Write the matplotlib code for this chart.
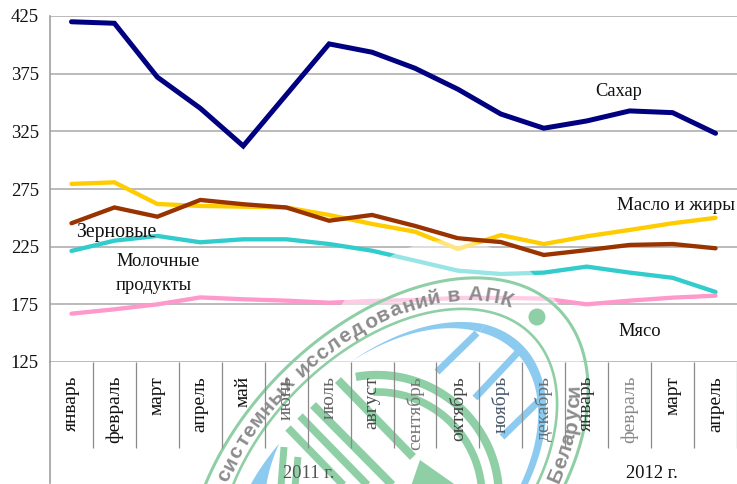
#!/usr/bin/env python3
import numpy as np
import matplotlib
matplotlib.use('Agg')
import matplotlib.pyplot as plt
from matplotlib.font_manager import FontProperties
from matplotlib.patches import Ellipse, Polygon
from matplotlib.textpath import TextPath
from matplotlib.ticker import FixedLocator, FixedFormatter
from matplotlib.transforms import Affine2D

plt.rcParams['font.family'] = ['Liberation Serif', 'DejaVu Serif']

months = ['январь', 'февраль', 'март', 'апрель', 'май', 'июнь', 'июль', 'август',
          'сентябрь', 'октябрь', 'ноябрь', 'декабрь', 'январь', 'февраль', 'март', 'апрель']
y_ticks = [125, 175, 225, 275, 325, 375, 425]

sugar = [420, 418.7, 372, 345, 312.3, 356.6, 400.8, 393.6, 379.7, 361.5, 340, 327.7, 334, 342.7, 341.2, 323.3]
oil = [279.4, 280.8, 262, 260.3, 259.7, 259, 252.5, 244.7, 238, 223, 235, 227.3, 234, 239.5, 245.3, 250]
grain = [245.3, 259, 251, 265.5, 261.8, 259, 247.5, 252.5, 243, 232.3, 229, 217.8, 222, 226.5, 227.3, 223.6]
dairy = [221.3, 230.2, 234.3, 228.8, 231.4, 231.4, 227.3, 221.5, 212.9, 204.2, 201.3, 202.5, 207.7, 202.5, 198, 185.7]
meat = [166.9, 170.7, 175, 181, 179.4, 178.2, 176.4, 177.9, 178.8, 180.5, 180.5, 180, 175, 178.2, 180.8, 182.5]

W, H = 737, 484
GREEN = '#8fcfa5'
BLUE = '#8ccbef'
STAMP_GREY = '#8c8c8c'

fig = plt.figure(figsize=(W / 100, H / 100), dpi=100)
ax = fig.add_axes([50 / W, (H - 362) / H, 687 / W, 346 / H])

# pixel coordinates of the picture, for the labels and the stamp
px = Affine2D().scale(1, -1).translate(0, H)

x = np.arange(len(months)) + 0.5
ax.plot(x, sugar, color='#000080', lw=3.6, solid_capstyle='round', solid_joinstyle='miter', zorder=3)
ax.plot(x, oil, color='#ffcc00', lw=3.1, solid_capstyle='round', solid_joinstyle='miter', zorder=3)
ax.plot(x, grain, color='#993300', lw=3.1, solid_capstyle='round', solid_joinstyle='miter', zorder=3.1)
ax.plot(x, dairy, color='#33cccc', lw=3.1, solid_capstyle='round', solid_joinstyle='miter', zorder=3)
ax.plot(x, meat, color='#ff99cc', lw=3.1, solid_capstyle='round', solid_joinstyle='miter', zorder=3)

ax.set_xlim(0, len(months))
ax.set_ylim(125, 425)
ax.set_yticks(y_ticks)
ax.tick_params(axis='y', length=0, labelsize=13.5, pad=8, colors='#111111')
ax.grid(axis='y', color='#a8a8a8', lw=1.1)
ax.yaxis.set_zorder(1)
ax.xaxis.set_zorder(20)

# month separators are the major ticks, month names sit on minor ticks
ax.xaxis.set_major_locator(FixedLocator(np.arange(1, len(months) + 1)))
ax.xaxis.set_major_formatter(FixedFormatter([]))
ax.xaxis.set_minor_locator(FixedLocator(x))
ax.xaxis.set_minor_formatter(FixedFormatter(months))
ax.tick_params(axis='x', which='major', length=62, width=0.9, color='#8a8a8a')
ax.tick_params(axis='x', which='minor', length=0, pad=10, labelsize=14, labelrotation=90)
label_colors = ['#111111'] * 5 + ['#666666', '#666666', '#4a4a4a', '#777777', '#444444',
                                  '#4a5a6a', '#667077', '#333333', '#888888', '#111111', '#111111']
for tick_label, c in zip(ax.xaxis.get_minorticklabels(), label_colors):
    tick_label.set_color(c)

for side in ['top', 'right', 'bottom']:
    ax.spines[side].set_visible(False)
ax.spines['left'].set_color('#a0a0a0')
ax.spines['left'].set_linewidth(1.2)
ax.plot([0, 0], [0, -0.35], transform=ax.transAxes, color='#a0a0a0', lw=1.2, clip_on=False)


def put(s, xp, yp, size=13.3, **kw):
    kw.setdefault('color', '#111111')
    ax.text(xp, yp, s, transform=px, fontsize=size, va='center', clip_on=False, zorder=21, **kw)


put('Сахар', 595, 92)
put('Масло и жиры', 617, 205, size=13.7)
put('Зерновые', 76, 232, size=14.2)
put('Молочные', 116, 262)
put('продукты', 116, 285)
put('Мясо', 618, 331)
put('2011 г.', 283, 474, color='#555555')
put('2012 г.', 626, 474)

# stamp: white wash first, then its rings, stripes and lettering
ax.add_patch(Ellipse((450, 400), 270, 320, transform=px, fc='white', ec='none', alpha=0.5,
                     clip_on=False, zorder=5))

CX, CY, A, B = 388, 478, 240, 150
C45 = np.sqrt(0.5)


def stamp_xy(r, theta):
    p = r * np.cos(np.radians(theta))
    q = r * np.sin(np.radians(theta))
    return CX + (A * p + B * q) * C45, CY + (-A * p + B * q) * C45


def ring(r, lw, color=GREEN):
    t = np.linspace(-180, 180, 300)
    xs, ys = stamp_xy(r, t)
    ax.plot(xs, ys, transform=px, color=color, lw=lw, clip_on=False, zorder=6, solid_capstyle='butt')


def band(t0, t1, r_in0, r_in1, r_out0, r_out1, color=BLUE):
    t = np.linspace(t0, t1, 120)
    xo, yo = stamp_xy(np.linspace(r_out0, r_out1, 120), t)
    xi, yi = stamp_xy(np.linspace(r_in0, r_in1, 120), t)
    pts = np.column_stack([np.r_[xo, xi[::-1]], np.r_[yo, yi[::-1]]])
    ax.add_patch(Polygon(pts, transform=px, fc=color, ec='none', clip_on=False, zorder=6))


def segment(x0, y0, x1, y1, lw, color):
    ax.plot([x0, x1], [y0, y1], transform=px, color=color, lw=lw, clip_on=False, zorder=6,
            solid_capstyle='butt')


def circle_arc(r, a0, a1, lw):
    t = np.radians(np.linspace(a0, a1, 100))
    ax.plot(377 + r * np.cos(t), 497 + r * np.sin(t), transform=px, color=GREEN, lw=lw,
            clip_on=False, zorder=6.5, solid_capstyle='butt')


ring(1.0, 2.2)
ring(0.845, 1.9)

band(-72, -20, 0.76, 0.745, 0.76, 0.785)
band(-20, 75, 0.745, 0.755, 0.785, 0.795)
band(-125, -108, 0.66, 0.71, 0.75, 0.71)

segment(477, 333, 437, 372, 5, BLUE)
segment(520, 350, 475, 398, 5, BLUE)
segment(540, 400, 502, 437, 5, BLUE)

circle_arc(122, -100, 5, 6)
circle_arc(105, -92, 0, 5.5)

segment(338, 380, 413, 457, 6, GREEN)
segment(313, 405, 407, 500, 6, GREEN)
segment(300, 416, 384, 502, 5.5, GREEN)
segment(288, 428, 352, 494, 5.5, GREEN)
segment(284, 447, 281, 486, 5, GREEN)
segment(298, 457, 295, 486, 5, GREEN)
ax.add_patch(Polygon([(420, 460), (411, 486), (457, 486)], transform=px, fc=GREEN, ec='none',
                     clip_on=False, zorder=6))
ax.add_patch(Ellipse((537, 317), 17, 17, transform=px, fc=GREEN, ec='none', clip_on=False, zorder=6))

STAMP_FONT = FontProperties(family='Liberation Sans', weight='bold')


def curved_text(s, r, t0, t1, size):
    ts = np.linspace(t0, t1, 800)
    xa, ya = stamp_xy(r, ts)
    arc = np.r_[0, np.cumsum(np.hypot(np.diff(xa), np.diff(ya)))]
    # each letter takes room by its own width, the whole string fills the arc
    widths = np.array([TextPath((0, 0), ch, size=size, prop=STAMP_FONT).get_extents().width + 1.5
                       if ch != ' ' else size * 0.3 for ch in s])
    mids = (np.cumsum(widths) - widths / 2) * arc[-1] / widths.sum()
    xs, ys = np.interp(mids, arc, xa), np.interp(mids, arc, ya)
    dx, dy = np.interp(mids, arc, np.gradient(xa)), np.interp(mids, arc, np.gradient(ya))
    for ch, xc, yc, ddx, ddy in zip(s, xs, ys, dx, dy):
        ax.text(xc, yc, ch, transform=px, fontsize=size, fontweight='bold',
                family='Liberation Sans', color=STAMP_GREY, rotation=np.degrees(np.arctan2(-ddy, ddx)),
                rotation_mode='anchor', ha='center', va='center', clip_on=False, zorder=7)


curved_text('системных исследований в АПК', 0.915, -123, -15, 15)
curved_text('Беларуси', 0.93, 59, 28, 15)

plt.savefig('out.png', dpi=100)
